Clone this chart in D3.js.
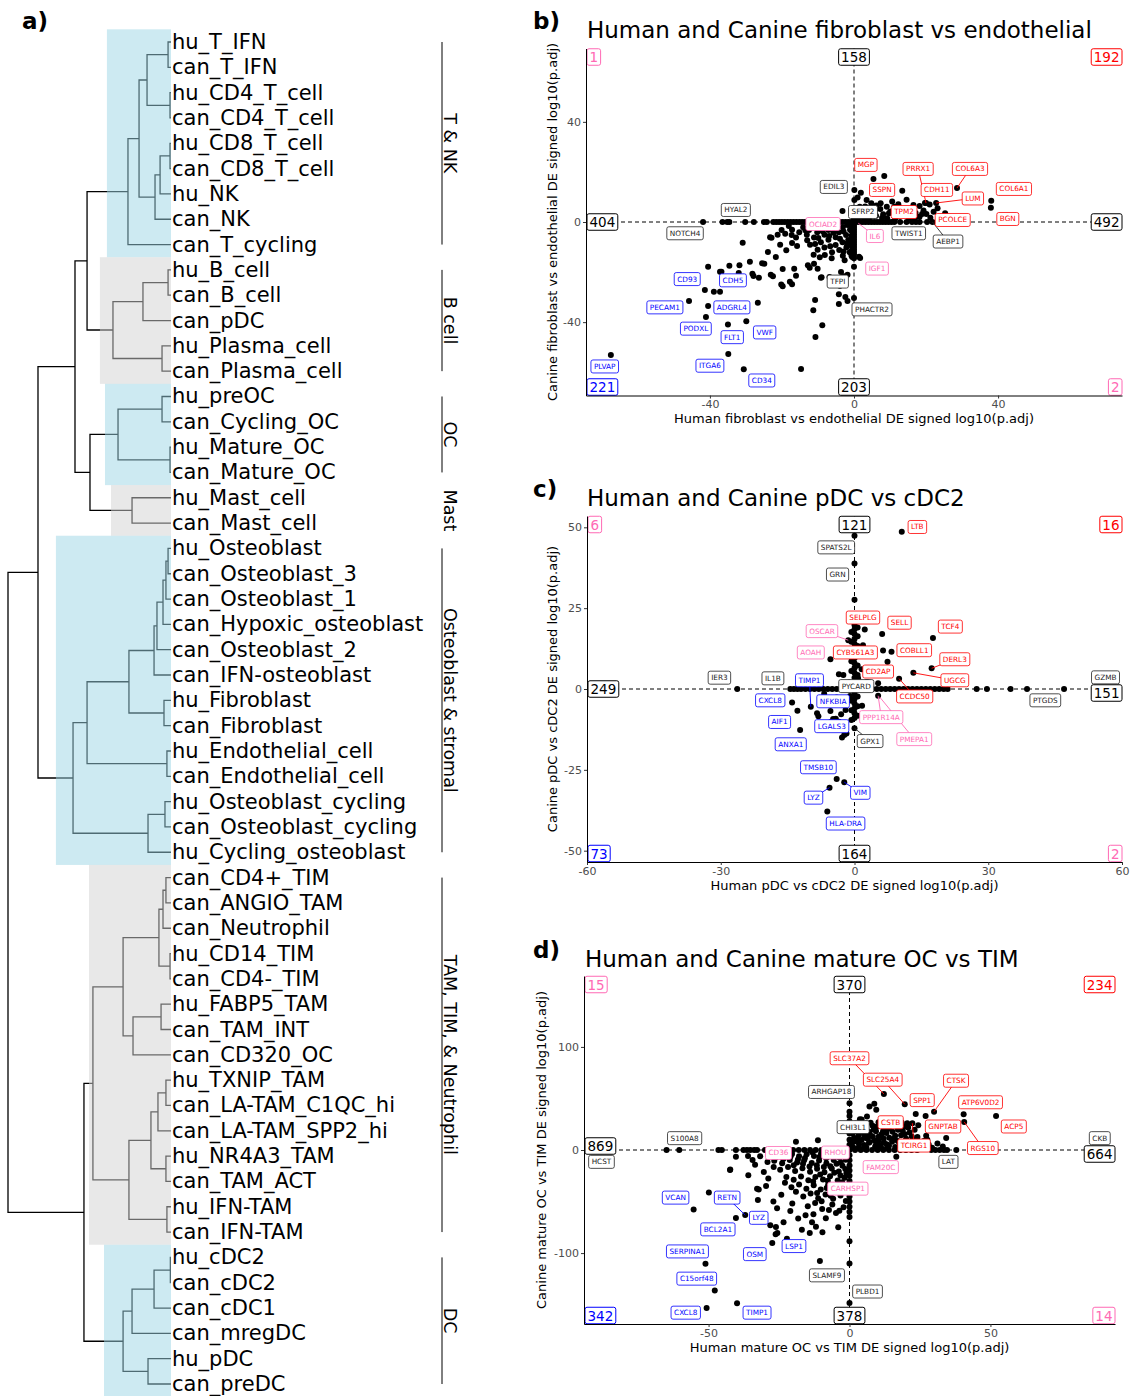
<!DOCTYPE html>
<html>
<head>
<meta charset="utf-8">
<title>Human and canine cell type comparison</title>
<style>
  body { margin: 0; background: #fff; }
  text { font-family: "DejaVu Sans", sans-serif; }
  .leaf { font-size: 21px; fill: #000; }
  .grp { font-size: 17.5px; fill: #000; }
  .tag { font-size: 23px; font-weight: bold; }
  .ttl { font-size: 23px; }
  .axt { font-size: 13px; fill: #000; }
  .tick text { font-size: 11px; fill: #4d4d4d; }
  .tick line { stroke: #333; }
</style>
</head>
<body>
<script src="https://cdn.jsdelivr.net/npm/d3@7"></script>
<script>
// ---------- panel a: dendrogram ----------
var leaves = ["hu_T_IFN","can_T_IFN","hu_CD4_T_cell","can_CD4_T_cell","hu_CD8_T_cell","can_CD8_T_cell","hu_NK","can_NK","can_T_cycling",
  "hu_B_cell","can_B_cell","can_pDC","hu_Plasma_cell","can_Plasma_cell",
  "hu_preOC","can_Cycling_OC","hu_Mature_OC","can_Mature_OC","hu_Mast_cell","can_Mast_cell",
  "hu_Osteoblast","can_Osteoblast_3","can_Osteoblast_1","can_Hypoxic_osteoblast","can_Osteoblast_2","can_IFN-osteoblast",
  "hu_Fibroblast","can_Fibroblast","hu_Endothelial_cell","can_Endothelial_cell","hu_Osteoblast_cycling","can_Osteoblast_cycling","hu_Cycling_osteoblast",
  "can_CD4+_TIM","can_ANGIO_TAM","can_Neutrophil","hu_CD14_TIM","can_CD4-_TIM","hu_FABP5_TAM","can_TAM_INT","can_CD320_OC",
  "hu_TXNIP_TAM","can_LA-TAM_C1QC_hi","can_LA-TAM_SPP2_hi","hu_NR4A3_TAM","can_TAM_ACT","hu_IFN-TAM","can_IFN-TAM",
  "hu_cDC2","can_cDC2","can_cDC1","can_mregDC","hu_pDC","can_preDC"];

// [height, left, right]
var tree = [1.0,
  [0.816,
    [0.589,
      [0.515,
        [0.264,
          [0.196,
            [0.147, [0.018,"hu_T_IFN","can_T_IFN"], [0.006,"hu_CD4_T_cell","can_CD4_T_cell"]],
            [0.098, [0.067, [0.006,"hu_CD8_T_cell","can_CD8_T_cell"], "hu_NK"], "can_NK"]],
          "can_T_cycling"],
        [0.356, [0.172, [0.018,"hu_B_cell","can_B_cell"], "can_pDC"], [0.055,"hu_Plasma_cell","can_Plasma_cell"]]],
      [0.497,
        [0.325, [0.055,"hu_preOC","can_Cycling_OC"], [0.006,"hu_Mature_OC","can_Mature_OC"]],
        [0.239,"hu_Mast_cell","can_Mast_cell"]]],
    [0.601,
      [0.515,
        [0.258,
          [0.104, [0.086, [0.049, [0.031, [0.018,"hu_Osteoblast","can_Osteoblast_3"], "can_Osteoblast_1"], "can_Hypoxic_osteoblast"], "can_Osteoblast_2"], "can_IFN-osteoblast"],
          [0.043,"hu_Fibroblast","can_Fibroblast"]],
        [0.025,"hu_Endothelial_cell","can_Endothelial_cell"]],
      [0.141, [0.037,"hu_Osteoblast_cycling","can_Osteoblast_cycling"], "hu_Cycling_osteoblast"]]],
  [0.534,
    [0.479,
      [0.294,
        [0.074, [0.049, [0.031,"can_CD4+_TIM","can_ANGIO_TAM"], "can_Neutrophil"], [0.006,"hu_CD14_TIM","can_CD4-_TIM"]],
        [0.233, [0.061,"hu_FABP5_TAM","can_TAM_INT"], "can_CD320_OC"]],
      [0.258,
        [0.123, [0.080, [0.031,"hu_TXNIP_TAM","can_LA-TAM_C1QC_hi"], "can_LA-TAM_SPP2_hi"], [0.031,"hu_NR4A3_TAM","can_TAM_ACT"]],
        [0.025,"hu_IFN-TAM","can_IFN-TAM"]]],
    [0.294,
      [0.239, [0.104, [0.004,"hu_cDC2","can_cDC2"], "can_cDC1"], "can_mregDC"],
      [0.141,"hu_pDC","can_preDC"]]]];

// cluster bands: label, first leaf, last leaf, shade, band height
var bandNames = ["T & NK","B cell","OC","Mast","Osteoblast & stromal","TAM, TIM, & Neutrophil","DC"];
var bandFirst = ["hu_T_IFN","hu_B_cell","hu_preOC","hu_Mast_cell","hu_Osteoblast","can_CD4+_TIM","hu_cDC2"];
var bandLast  = ["can_T_cycling","can_Plasma_cell","can_Mature_OC","can_Mast_cell","hu_Cycling_osteoblast","can_IFN-TAM","can_preDC"];
var bandShade = ["blue","grey","blue","grey","blue","grey","blue"];
var bandHeight = [0.393,0.436,0.405,0.368,0.706,0.503,0.411];

// ---------- panel b ----------
var bCounts = [1,158,192,404,492,221,203,2];
var bXTicks = [-40,0,40], bYTicks = [-40,0,40];
var bPoints = [
  [-41.9,0],[-36.5,0],[-35.2,0],[-34.6,0],[-30.2,0],[-27.8,0],[-25,0],[-24.2,0],
  [-22.4,0],[-21.6,0],[-20.8,0],[-20,0],[-19.2,0],[-18.4,0],[-17.6,0],[-16.8,0],[-16,0],[-15.2,0],[-14.4,0],[-13.6,0],[-12.8,0],[-12,0],
  [-11.2,0],[-10.4,0],[-9.6,0],[-8.8,0],[-8,0],[-7.2,0],[-6.4,0],[-5.6,0],[-4.8,0],[-4,0],[-3.2,0],[-2.4,0],[-1.6,0],[-0.8,0],
  [0.8,0],[1.6,0],[2.4,0],[3.2,0],[4,0],[4.8,0],[5.6,0],[6.4,0],[7.2,0],[8,0],[8.8,0],[9.6,0],[10.4,0],[11.2,0],[12.8,0],[14.6,0],[16.1,0],[17.2,0],[18.2,0],[20.3,0],[21.8,0],
  [0,3.2],[0,2.2],[0,1.2],[0,0],[0,-1],[0,-2],[0,-3],[0,-4],[0,-5],[0,-6],[0,-7],[0,-8],[0,-9],[0,-10],[0,-11],[0,-12],[0,-13],[0,-14.5],[0,-17.9],[0,-30.4],
  [-0.7,-1.5],[-0.7,-3.5],[-0.7,-5.5],[-0.7,-7.5],[-0.7,-9.5],[-0.7,-11.5],[-0.7,-13.5],
  [2.1,2.2],[3.2,3.4],[4.1,1.6],[5.2,4.1],[6.1,2.5],[7.3,5.2],[8.1,3.1],[9.2,1.5],[10.1,4.2],[11.2,6.1],[12.1,2.6],[13.2,4.5],[14.1,3.1],[15.3,1.6],
  [16.2,5.1],[17.1,3.6],[18.2,2.1],[19.3,4.6],[20.1,3.2],[21.2,1.7],[22.1,4.1],[24.2,2.1],[3.1,6.2],[6.2,6.6],[9.1,6.1],[12.3,7.1],[2.2,4.6],[1.1,1.5],
  [1.6,6.1],[0.1,12.8],[0.1,8.8],[1.9,11.7],[3.5,8.8],[4.8,7.5],[7.4,7.5],[10.6,8.2],[13.4,12.5],[14.6,8.9],[16.5,6.8],[18.2,6.4],[19.7,7.6],[20,7.6],
  [21,7],[22.8,7.6],[23.2,5.5],[25.3,3.5],[28.6,13.6],[38.1,8.5],[38,5.7],[5.4,17.2],[8.4,18.4],
  [0.7,2.6],[1.8,4],[2.9,1.2],[4.5,3],[5.9,5.2],[7.8,1.7],[9.7,3.5],[11.4,1.2],[12.8,5.5],[14.8,4.7],[16.9,1.5],[18.9,3.2],[1,9.8],[0.8,5.5],
  [-14.1,-2.1],[-12.5,-3.2],[-11.1,-1.5],[-10.2,-4.1],[-9.1,-2.6],[-8.2,-5.1],[-7.1,-3.2],[-6.2,-1.6],[-5.1,-6.1],[-4.2,-4.1],[-3.1,-2.1],[-2.2,-5.2],
  [-1.1,-3.1],[-1.6,-7.2],[-3.2,-8.1],[-5.1,-9.2],[-7.1,-7.1],[-9.2,-8.1],[-11.1,-6.2],[-13.1,-5.1],[-12.2,-9.1],[-10.1,-11.1],[-8.2,-10.2],[-6.1,-12.1],
  [-4.1,-11.2],[-2.1,-10.1],[-1.2,-12.1],[-15.2,-4.1],[-16.1,-6.2],[-17.2,-3.1],[-18.1,-1.6],[-20.1,-3.2],[-21.2,-5.1],[-8.1,-13.2],[-6.2,-14.5],[-3.1,-13.5],
  [-1.8,-1.2],[-2.9,-3.8],[-4.6,-2.4],[-5.7,-4.3],[-6.9,-5.6],[-7.6,-1.2],[-8.7,-3.7],[-9.9,-6.4],[-10.8,-8.8],[-1.9,-8.6],[-3.9,-6.7],[-6.6,-9.7],[-2.9,-11.8],
  [-9.5,-14.1],[-11.2,-13.1],[-23.9,-12],[-21.7,-14],[-22.9,-6.3],[-20.5,-9.1],[-19.1,-4.7],[-17.2,-8.4],[-15.8,-9.6],[-18.8,-11.3],[-19.8,-18.8],[-16.6,-18.7],
  [-16.1,-21.5],[-13.5,-3.3],[-13,-7.3],[-12.8,-17.3],[-12.3,-18.3],[-11.1,-16.7],[-10.1,-18.7],[-9.2,-22.3],[-6.8,-22],[-3.6,-20],[-2.8,-21.7],[-1.8,-21.1],
  [-2.6,-15.3],[-0.5,-14],[1.7,-14.4],[1.4,-13.9],[-30.9,-8.3],[-23.3,-6.1],[-17.3,-5.2],[-3.2,4.4],
  [-40.5,-17.9],[-34.6,-17.5],[-37.2,-19.9],[-28.9,-15.9],[-25.5,-16.5],[-28.2,-20.7],[-23.1,-21.1],[-20.2,-25],[-17.8,-23.9],[-41.4,-27.2],[-38.9,-27.9],
  [-37.2,-27.9],[-45.8,-31.6],[-40.5,-33.6],[-26.7,-32.3],[-41.1,-37.9],[-35,-40.9],[-29.9,-39.6],[-8.8,-41.2],[-10.7,-45.9],[-11.3,-35.2],[-10.8,-31.2],
  [-9,-22.1],[-5.5,-25.1],[-3.9,-25.5],[-4.2,-32.8],[-4.2,-28.9],[-2.4,-30],[-1.8,-31.6],[-67.5,-53.1],[-34.9,-52.7],[-30.6,-58.8],[-14.7,-58.7],
  [-31.8,-17.3],[-32,-20.4],[-36.8,-19.9],[-26.4,-22.3],[-27.9,-21.6],[-24.9,-16.7],[-22.5,-21.7],[-19.8,-25.7],[-17.2,-24.9]
];
// gene, group, label x, label y, [point x, point y]
var bLabels = [
  ["MGP","up",3.3,22.8],["PRRX1","up",17.8,21.2,20,7.6],["COL6A3","up",32.2,21.2,28.6,13.6],["COL6A1","up",44.4,13.2],
  ["EDIL3","ns",-5.6,14],["SSPN","up",7.8,12.8],["CDH11","up",23,12.8],["LUM","up",33,9.4,22.8,7.6],["HYAL2","ns",-32.8,4.8],
  ["SFRP2","ns",2.5,4],["TPM2","up",13.9,4],["PCOLCE","up",27.4,0.8],["BGN","up",42.7,1.2],["OCIAD2","disc",-8.6,-0.8],
  ["NOTCH4","ns",-46.9,-4.5],["IL6","disc",5.8,-5.6,1.2,-0.5],["TWIST1","ns",15.2,-4.5],["AEBP1","ns",26.1,-7.8,21.8,0],
  ["IGF1","disc",6.4,-18.6],["CD93","down",-46.3,-22.8],["CDH5","down",-33.6,-23.3],["TFPI","ns",-4.5,-23.8],
  ["PECAM1","down",-52.5,-34.1],["ADGRL4","down",-33.9,-34.1],["PHACTR2","ns",5,-34.9],["PODXL","down",-43.9,-42.6],
  ["FLT1","down",-33.8,-46],["VWF","down",-24.8,-44.1],["PLVAP","down",-69.2,-57.7],["ITGA6","down",-40,-57.4],["CD34","down",-25.6,-63.3]
];

// ---------- panel c ----------
var cCounts = [6,121,16,249,151,73,164,2];
var cXTicks = [-60,-30,0,30,60], cYTicks = [-50,-25,0,25,50];
var cPoints = [
  [-26.3,0],[-14.4,0],[-13.6,0],[-12.8,0],[-12,0],[-11,0],[-10,0],[-9,0],[-8,0],[-7,0],[-6,0],[-5,0],[-4,0],[-3,0],[-2,0],[-1,0],
  [1,0],[2,0],[3,0],[4,0],[5,0],[6,0],[7,0],[8,0],[9,0],[10,0],[11,0],[12,0],[13,0],[14,0],[15,0],[16,0],[17,0],[18,0],[19,0],[20,0],[20.9,0],
  [27.4,0],[29.7,0],[35,0],[38.7,0],[47,0],
  [0,47.4],[0,38.8],[0,27.6],[0,19.8],[0,18.5],[0,17],[0,15.5],[0,14],[0,12.5],[0,11],[0,9.5],[0,8],[0,6.5],[0,5],[0,3.5],[0,2],[0,0],
  [0,-1.5],[0,-3],[0,-4.5],[0,-6],[0,-7.5],[0,-9],[0,-12.1],
  [0.7,19],[0.7,16.3],[0.7,13.3],[0.7,10.3],[0.7,7.3],[0.7,4.3],[0.7,1.3],[0.7,-2.3],[0.7,-5.3],[0.7,-8.3],
  [-0.7,17.6],[-0.7,14.6],[-0.7,11.6],[-0.7,8.6],[-0.7,5.6],[-0.7,-3.6],[-0.7,-6.6],[-0.7,-9.6],
  [10.6,48.6],[2.3,18.4],[6.2,17],[17.6,15.8],[-1.4,15.1],[1.9,13.5],[6.4,11.9],[8.3,11.5],[-5.4,9.2],[7.4,8.4],[17.3,6.4],[13.2,5],[10,3.2],
  [1.6,6.1],[5.3,1.8],[-2.5,4.3],[-3.5,4.6],[0.8,3.3],[-1.2,2],[1.5,1.2],[2.8,2.2],[-2,1],
  [5.3,-2.1],[1.7,-5.2],[-14,-4.2],[-12.8,-6.7],[-12.2,-12.7],[-9.8,-5.5],[-8.4,-7.5],[-8.1,-8.4],[-6.8,-1.5],[-6,-3.3],[-5.4,-6.8],[-4.8,-9.3],
  [-5.3,-10.2],[-4.2,-9.2],[-3.5,-10.1],[-3,-7.8],[-2.6,-4.8],[-2,-6.5],[-3.2,-11.2],[-2.3,-14.2],[-2.8,-15],[-1.8,-13.8],[-1,-2.2],[-4,-2.6],
  [-4,-27.8],[-2.3,-28.8],[-5.6,-30.5],[-6.1,-37.9]
];
var cLabels = [
  ["LTB","up",14.1,50.1],["SPATS2L","ns",-4.1,43.8],["GRN","ns",-3.8,35.4],["SELPLG","up",1.9,22.1],["SELL","up",10.1,20.5],
  ["TCF4","up",21.5,19.3],["OSCAR","disc",-7.3,17.9,-1.4,15.1],["COBLL1","up",13.4,12],["AOAH","disc",-9.8,11.3],["CYB561A3","up",0.2,11.3],
  ["DERL3","up",22.5,9.2,17.3,6.4],["CD2AP","up",5.3,5.4],["IER3","ns",-30.3,3.5],["IL1B","ns",-18.3,3.3],["TIMP1","down",-10.1,2.7,-9.8,-5.5],
  ["UGCG","up",22.5,2.7,13.2,5],["PYCARD","ns",0.4,0.9],["GZMB","ns",56.3,3.6],["PTGDS","ns",42.8,-3.5],["CXCL8","down",-18.9,-3.5],
  ["NFKBIA","down",-4.8,-3.8],["CCDC50","up",13.5,-2.3,10,3.2],["PPP1R14A","disc",6,-8.7,5.3,-2.1],["AIF1","down",-16.8,-10.2],
  ["LGALS3","down",-5.1,-11.5],["PMEPA1","disc",13.4,-15.5,5.6,-2.4],["GPX1","ns",3.5,-16.1,0,-12.1],["ANXA1","down",-14.3,-17.1],
  ["TMSB10","down",-8.1,-24.2],["VIM","down",1.3,-32.1,-2.3,-28.8],["LYZ","down",-9.2,-33.6,-5.6,-30.5],["HLA-DRA","down",-2,-41.6]
];

// ---------- panel d ----------
var dCounts = [15,370,234,869,664,342,378,14];
var dXTicks = [-50,0,50], dYTicks = [-100,0,100];
var dPoints = [
  [-64.9,0],[-60.4,0],[-46.5,0],[-45.3,0],[-40.3,0],[-37.6,0],[-36.4,0],[-35.2,0],[-33.8,0],[-32.8,0],
  [-30,0],[-28,0],[-26,0],[-24,0],[-22,0],[-20,0],[-18,0],[-16,0],[-14,0],[-12,0],[-10,0],[-8,0],[-6,0],[-4,0],[-2,0],
  [2,0],[4,0],[6,0],[8,0],[10,0],[12,0],[14,0],[16,0],[18,0],[20,0],[22,0],[24,0],[29,0],[30.5,0],[32,0],[33.5,0],[34.6,0],[37.9,0],
  [0,45.3],[0,37],[0,33],[0,28],[0,22],[0,16],[0,10],[0,5],[0,0],[0,-5],[0,-10],[0,-15],[0,-20],[0,-25],[0,-30],[0,-35],[0,-40],[0,-45],[0,-50],
  [0,-55],[0,-60],[0,-65],[0,-88.6],[0,-110],[0,-148.4],
  [12.2,54.4],[19.6,44.4],[30,37.2],[23.5,35],[27,33],[40.5,34.6],[52,33],[40.7,27.2],[34.3,11.6],[16.6,-6.5],
  [7.1,42.2],[8.8,44.8],[9.5,39],[6.2,32.5],[3.7,29.9],[18.5,26.6],[20.5,26],[22.3,26],
  [1.2,3.1],[2.1,8.4],[3.3,14.2],[4.1,20.3],[5.2,4.8],[6.3,11.2],[7.1,17.4],[8.2,23.6],[9.1,3.4],[10.2,9.1],[11.4,15.3],[12.3,21.2],[13.2,5.6],
  [14.1,11.8],[15.3,17.6],[16.2,2.9],[17.1,8.7],[18.3,14.4],[19.2,5.1],[20.1,10.8],[21.3,16.9],[22.4,2.2],[23.2,7.9],[24.1,12.6],[25.3,4.2],
  [26.4,8.8],[27.2,13.9],[28.1,5.3],[29.3,2.1],[31.2,6.2],[33.1,3.4],[2.2,25.8],[4.3,29.6],[6.1,25.9],[1.1,16.2],[3.2,2.1],[5.3,12.1],[7.2,7.8],
  [9.4,18.2],[11.1,4.9],[13.3,1.9],[15.1,8.1],[17.2,19.6],[19.4,22.7],[21.2,7.8],[23.1,19.7],[10.3,26.8],[14.2,23.4],[8.3,12.9],[12.1,11.1],
  [16.2,13.8],[18.1,3.8],[20.2,1.8],[22.1,13.2],[24.4,23.9],
  [0.8,7],[1.6,12],[2.5,18],[3.4,5.5],[4.3,9.6],[5.1,16.3],[6,2.4],[6.9,7.1],[7.8,13.5],[8.6,19.8],[9.5,6.2],[10.4,13],[11.3,1.8],[12.2,7.4],
  [13.1,16.6],[14,4.1],[1.7,21.8],[3.6,24.1],[5.7,20.4],[7.5,26.5],[9.8,22.9],[11.9,18.3],[2.9,10.5],[4.8,1.2],[8.9,9.2],[10.8,2.9],[6.6,14.8],
  [1.4,1.5],[15.9,11.2],[17.8,6.3],[19.6,15.4],[21.7,4.6],[23.8,10.1],[25.8,1.5],[27.6,9.9],[13.9,20.5],[16.4,24.8],[12.6,29.1],[18.9,18.6],[20.8,21.9],
  [-19,8.1],[-11.2,9.4],[-42.4,-19.5],[-32.8,-37.7],[-49.9,-41.2],[-55.3,-57.8],[-40.3,-65.9],[-37,-63.1],[-28.1,-73],[-26.1,-74.7],[-25.6,-80.5],
  [-26.2,-81.8],[-27.4,-90.3],[-26.9,-16.6],[-22.9,-31.8],[-19,-40.6],[-21,-59.1],[-10.5,-107.8],[-14.1,-80.5],[-9.6,-79.9],[-4,-75],[-51.1,-110.4],
  [-47.8,-136.4],[-50.7,-153.2],[-39.9,-148.7],[-36,-5.8],[-32.5,-48.5],[-27,-50],[-32.2,-38.2],[-40.3,-6.5],[-42.3,-18.8],
  [-28.5,-4],[-25.8,-3.2],[-23.1,-5.5],[-20.4,-3.8],[-17.9,-6.1],[-15.2,-4.2],[-12.6,-5.8],[-10.1,-3.5],[-7.4,-6.3],[-4.8,-4.1],[-2.2,-5.9],
  [-26.7,-10.4],[-23.9,-12.8],[-21.2,-9.6],[-18.6,-12.1],[-16.1,-9.9],[-13.4,-12.6],[-10.8,-10.2],[-8.2,-12.9],[-5.6,-9.7],[-3.1,-12.2],[-1.4,-9.5],
  [-24.6,-19.2],[-21.8,-16.5],[-19.3,-20.4],[-16.7,-17.6],[-14,-21.1],[-11.5,-18.2],[-8.9,-21.6],[-6.3,-17.9],[-3.8,-20.8],[-1.5,-18.4],
  [-22.4,-26.3],[-19.8,-28.9],[-17.2,-25.7],[-14.6,-29.4],[-12.1,-26.1],[-9.4,-28.6],[-6.9,-25.4],[-4.2,-29.7],[-1.7,-26.8],
  [-20.6,-36.2],[-17.9,-33.4],[-15.3,-37.5],[-12.7,-34.1],[-10.2,-38.3],[-7.6,-33.9],[-5.1,-37.1],[-2.4,-34.6],
  [-16.4,-45.2],[-13.8,-42.3],[-11.1,-46.8],[-8.5,-43.1],[-5.8,-47.4],[-3.2,-44.2],[-1.3,-49.5],
  [-14.8,-54.6],[-12.2,-51.3],[-9.7,-57.2],[-6.1,-52.8],[-3.6,-58.9],[-12.8,-62.4],[-8.4,-66.1],[-13.3,-70.2],[-11.9,-74.5],[-15.6,-63.3],
  [-24.2,-43.5],[-28.8,-27.7],[-30.4,-21.3],[-33.5,-14.2],[-35.9,-24.6],[-29.6,-34.9],[-25.7,-56.4],[-20.3,-51.8],[-18.2,-66.4],[-23.4,-70.1],
  [-22.2,-86.2],[-16.9,-77.3],
  [-1.2,-2.4],[-3.5,-7.6],[-5.9,-2.1],[-8.3,-8.1],[-10.7,-6.9],[-13.2,-2.3],[-15.8,-7.7],[-18.3,-9.2],[-20.9,-6.4],[-23.5,-8.8],[-2.5,-15.3],
  [-4.6,-13.4],[-6.8,-15.7],[-9.1,-16.4],[-11.6,-14.9],[-14.2,-16.1],[-16.5,-13.3],[-19.8,-14.8],[-1.1,-22.6],[-3.2,-24.7],[-5.4,-22.1],[-7.7,-29.8],
  [-10.4,-23.8],[-12.9,-30.5],[-2.6,-31.4],[-4.9,-40.2],[-8.1,-36.9],[-11.5,-41.6],[-1.9,-38.2],[-6.7,-44.3],[-2.1,-55.6],[-4.8,-61.2],[-7.3,-58.3],
  [-9.9,-49.8],[-26.2,-7.3],[-29.1,-11.6],[-31.7,-6.1],[-34.4,-9.7]
];
var dLabels = [
  ["SLC37A2","up",0,89,12.2,54.4],["SLC25A4","up",11.8,68.2,19.6,44.4],["CTSK","up",37.8,67.2,30,37.2],["ARHGAP18","ns",-6.4,56.3],
  ["SPP1","up",25.8,48.4],["ATP6V0D2","up",46.5,46.3],["CSTB","up",14.6,26.9],["CHI3L1","ns",1.3,22.2],["GNPTAB","up",33.2,22.8],
  ["ACP5","up",58.3,22.8],["S100A8","ns",-58.5,11.5],["CKB","ns",88.8,11.5],["CD36","disc",-25.2,-2.9],["RHOU","disc",-5,-2.5],
  ["TCIRG1","up",22.9,4.3,22.3,26],["RGS10","up",47.3,1.9,40.7,27.2],["HCST","ns",-88,-11.5],["LAT","ns",35.1,-11.5],
  ["FAM20C","disc",11.1,-16.6,5.5,-22],["CARHSP1","disc",-0.6,-37.5],["VCAN","down",-61.7,-46.2],["RETN","down",-43.4,-46.2,-37,-63.1],
  ["LYZ","down",-32.2,-65.8],["BCL2A1","down",-46.7,-77],["SERPINA1","down",-57.5,-98.4],["OSM","down",-33.6,-101],["LSP1","down",-19.7,-93.2],
  ["C15orf48","down",-54.2,-124.8],["SLAMF9","ns",-8,-121.6],["PLBD1","ns",6.4,-137.3],["CXCL8","down",-58.1,-157.8],["TIMP1","down",-32.8,-157.8]
];

var groupColor = { up: "#ff0000", down: "#0000ff", disc: "#ff69b4", ns: "#222222" };
var countGroups = ["disc","ns","up","ns","ns","down","ns","disc"];

var W = 1130, H = 1396;
var svg = d3.select('body').append('svg').attr('width', W).attr('height', H);

// ---- dendrogram ----
var yLeaf = d3.scalePoint().domain(leaves).range([42, 1384]);
var step = yLeaf.step();
var xTree = d3.scaleLinear().domain([0, 1]).range([171, 8]);

var root = d3.hierarchy(tree, function(d) { return Array.isArray(d) ? d.slice(1) : null; });
root.eachAfter(function(n) {
  if (!n.children) { n.h = 0; n.yy = yLeaf(n.data); }
  else { n.h = n.data[0]; n.yy = (n.children[0].yy + n.children[1].yy) / 2; }
});

var ga = svg.append('g');
ga.selectAll('path.edge')
  .data(root.descendants().filter(function(n) { return n.children; }))
  .enter().append('path')
  .attr('fill', 'none').attr('stroke', '#000').attr('stroke-width', 1.3)
  .attr('d', function(n) {
    var a = n.children[0], b = n.children[1];
    return 'M' + xTree(a.h) + ',' + a.yy + 'H' + xTree(n.h) + 'V' + b.yy + 'H' + xTree(b.h);
  });

// translucent bands over the branches
var shadeFill = { blue: "#9bd5e5", grey: "#d1d1d1" };
ga.selectAll('rect.band').data(bandNames).enter().append('rect')
  .attr('x', function(d, i) { return xTree(bandHeight[i]); })
  .attr('y', function(d, i) { return yLeaf(bandFirst[i]) - step / 2; })
  .attr('width', function(d, i) { return xTree(0) - xTree(bandHeight[i]); })
  .attr('height', function(d, i) { return yLeaf(bandLast[i]) - yLeaf(bandFirst[i]) + step; })
  .attr('fill', function(d, i) { return shadeFill[bandShade[i]]; })
  .attr('fill-opacity', 0.5);

ga.selectAll('text.leaf').data(leaves).enter().append('text')
  .attr('class', 'leaf')
  .attr('x', 172).attr('y', function(d) { return yLeaf(d); })
  .attr('dominant-baseline', 'central')
  .text(function(d) { return d; });

bandNames.forEach(function(name, i) {
  var y0 = yLeaf(bandFirst[i]), y1 = yLeaf(bandLast[i]);
  if (name !== "Mast") {
    ga.append('line').attr('x1', 442).attr('x2', 442).attr('y1', y0).attr('y2', y1)
      .attr('stroke', '#000').attr('stroke-width', 1);
  }
  ga.append('text').attr('class', 'grp')
    .attr('transform', 'translate(444,' + ((y0 + y1) / 2) + ') rotate(90)')
    .attr('text-anchor', 'middle')
    .text(name);
});
ga.append('text').attr('class', 'tag').attr('x', 22).attr('y', 29).text('a)');

// ---- scatter panels ----
function boxLabel(g, cx, cy, txt, col, fs, padX, h, sw, anchor) {
  var lg = g.append('g');
  var t = lg.append('text').attr('y', cy).attr('dominant-baseline', 'central')
    .attr('text-anchor', 'middle').style('font-size', fs + 'px').attr('fill', col).text(txt);
  var w = t.node().getComputedTextLength() + 2 * padX;
  var x0 = cx - w / 2;
  if (anchor === 'start') x0 = cx;
  if (anchor === 'end') x0 = cx - w;
  t.attr('x', x0 + w / 2);
  lg.insert('rect', 'text').attr('x', x0).attr('y', cy - h / 2).attr('width', w).attr('height', h)
    .attr('rx', 2).attr('fill', '#fff').attr('stroke', col).attr('stroke-width', sw);
}

function plainNum(v) { return String(v); }

function drawPanel(p) {
  var x = d3.scaleLinear().domain(p.xDom).range(p.xr);
  var y = d3.scaleLinear().domain(p.yDom).range(p.yr);
  var g = svg.append('g');

  g.append('text').attr('class', 'tag').attr('x', 533).attr('y', p.tagY).text(p.tag);
  g.append('text').attr('class', 'ttl').attr('x', p.titleX).attr('y', p.tagY + 9).text(p.title);

  g.append('line').attr('x1', x(0)).attr('x2', x(0)).attr('y1', p.yr[0]).attr('y2', p.yr[1])
    .attr('stroke', '#000').attr('stroke-dasharray', '4,3');
  g.append('line').attr('x1', p.xr[0]).attr('x2', p.xr[1]).attr('y1', y(0)).attr('y2', y(0))
    .attr('stroke', '#000').attr('stroke-dasharray', '4,3');

  g.append('g').selectAll('circle').data(p.pts).enter().append('circle')
    .attr('cx', function(d) { return x(d[0]); }).attr('cy', function(d) { return y(d[1]); })
    .attr('r', 3).attr('fill', '#000');

  g.append('g').selectAll('line').data(p.labs.filter(function(d) { return d.length > 4; }))
    .enter().append('line')
    .attr('x1', function(d) { return x(d[4]); }).attr('y1', function(d) { return y(d[5]); })
    .attr('x2', function(d) { return x(d[2]); }).attr('y2', function(d) { return y(d[3]); })
    .attr('stroke', function(d) { return groupColor[d[1]]; }).attr('stroke-width', 0.9);

  var lg = g.append('g');
  p.labs.forEach(function(d) {
    boxLabel(lg, x(d[2]), y(d[3]), d[0], groupColor[d[1]], 7.3, 3, 13, 0.8, 'middle');
  });

  // quadrant / axis counts
  var cg = g.append('g');
  var L = p.xr[0] + 1, R = p.xr[1], C = x(0), T = p.yr[1] + 8.5, B = p.yr[0] - 8.5, M = y(0);
  var spots = [[L, T, 'start'], [C, T, 'middle'], [R, T, 'end'],
               [L, M + p.mlDy, 'start'], [R, M + p.mrDy, 'end'],
               [L, B, 'start'], [C, B, 'middle'], [R, B, 'end']];
  p.counts.forEach(function(v, i) {
    var col = countGroups[i] === 'ns' ? '#000' : groupColor[countGroups[i]];
    boxLabel(cg, spots[i][0], spots[i][1], String(v), col, 13.5, 2.5, 16.5, 1, spots[i][2]);
  });

  var ax = d3.axisBottom(x).tickValues(p.xt).tickFormat(plainNum).tickSize(3).tickSizeOuter(0).tickPadding(2);
  g.append('g').attr('transform', 'translate(0,' + p.yr[0] + ')').call(ax)
    .call(function(s) { s.select('.domain').attr('stroke', '#000').attr('stroke-width', 1); });
  var ay = d3.axisLeft(y).tickValues(p.yt).tickFormat(plainNum).tickSize(3).tickSizeOuter(0).tickPadding(2);
  g.append('g').attr('transform', 'translate(' + p.xr[0] + ',0)').call(ay)
    .call(function(s) { s.select('.domain').attr('stroke', '#000').attr('stroke-width', 1); });
  g.selectAll('.tick text').attr('font-family', null);

  g.append('text').attr('class', 'axt').attr('text-anchor', 'middle')
    .attr('x', (p.xr[0] + p.xr[1]) / 2).attr('y', p.yr[0] + 27.5).text(p.xlab);
  g.append('text').attr('class', 'axt').attr('text-anchor', 'middle')
    .attr('transform', 'translate(' + p.ylabX + ',' + ((p.yr[0] + p.yr[1]) / 2) + ') rotate(-90)')
    .text(p.ylab);
}

drawPanel({ tag: 'b)', tagY: 29, titleX: 587, title: 'Human and Canine fibroblast vs endothelial',
  xlab: 'Human fibroblast vs endothelial DE signed log10(p.adj)',
  ylab: 'Canine fibroblast vs endothelial DE signed log10(p.adj)',
  xDom: [-74.4, 74.4], yDom: [-69.3, 69.3], xr: [586, 1122], yr: [395.5, 48.5],
  xt: bXTicks, yt: bYTicks, pts: bPoints, labs: bLabels, counts: bCounts, ylabX: 557, mlDy: 0, mrDy: 0 });

drawPanel({ tag: 'c)', tagY: 497, titleX: 587, title: 'Human and Canine pDC vs cDC2',
  xlab: 'Human pDC vs cDC2 DE signed log10(p.adj)',
  ylab: 'Canine pDC vs cDC2 DE signed log10(p.adj)',
  xDom: [-60, 60], yDom: [-53.5, 53.5], xr: [587, 1122], yr: [862, 516],
  xt: cXTicks, yt: cYTicks, pts: cPoints, labs: cLabels, counts: cCounts, ylabX: 557, mlDy: 0, mrDy: 4 });

drawPanel({ tag: 'd)', tagY: 958, titleX: 585, title: 'Human and Canine mature OC vs TIM',
  xlab: 'Human mature OC vs TIM DE signed log10(p.adj)',
  ylab: 'Canine mature OC vs TIM DE signed log10(p.adj)',
  xDom: [-94.2, 94.2], yDom: [-168.8, 168.8], xr: [584, 1115], yr: [1324, 976],
  xt: dXTicks, yt: dYTicks, pts: dPoints, labs: dLabels, counts: dCounts, ylabX: 546, mlDy: -4, mrDy: 4 });
</script>
</body>
</html>
